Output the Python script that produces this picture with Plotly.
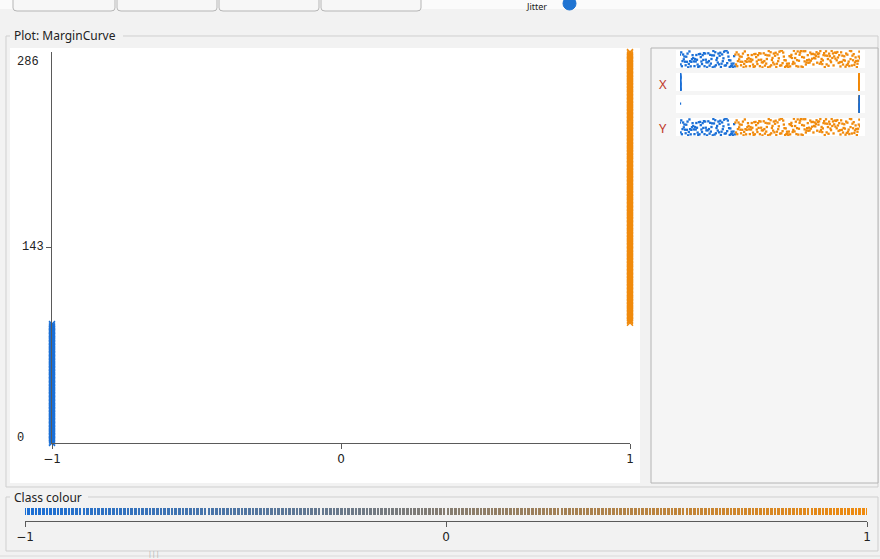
import numpy as np
import plotly.graph_objects as go

# ---- data: margin curve (margin vs. cumulative count) ----
N_NEGATIVE = 88          # instances with margin -1
N_POSITIVE = 199         # instances with margin +1
MARGIN_NEG = [-1] * N_NEGATIVE
MARGIN_POS = [1] * N_POSITIVE
CUMULATIVE = np.arange(N_NEGATIVE + N_POSITIVE)   # running instance count
CUM_NEG = CUMULATIVE[:N_NEGATIVE]
CUM_POS = CUMULATIVE[N_NEGATIVE:]
CURRENT_NEG = [0] + [1] * (N_NEGATIVE - 1)
CURRENT_POS = [1] * N_POSITIVE

Y_LABELS = [286, 143, 0]
X_TICKS = [-1, 0, 1]

BLUE = "#1a6fd6"
ORANGE = "#f08a0c"
BG = "#f2f2f2"
BORDER = "#cfcfcf"

W, H = 880, 559


def fx(px):
    return px / W


def fy(py):
    return 1 - py / H


fig = go.Figure()

# ---- main scatter ----
cross = dict(symbol="x-thin", size=6)
fig.add_trace(go.Scatter(
    x=MARGIN_NEG, y=CUM_NEG, mode="markers", cliponaxis=False,
    marker=dict(**cross, color=BLUE, line=dict(width=1.4, color=BLUE)),
    hoverinfo="skip", showlegend=False))
fig.add_trace(go.Scatter(
    x=MARGIN_POS, y=CUM_POS, mode="markers", cliponaxis=False,
    marker=dict(**cross, color=ORANGE, line=dict(width=1.4, color=ORANGE)),
    hoverinfo="skip", showlegend=False))

# ---- attribute strips on the right ----
strips = [
    # (axis suffix, neg values, pos values, range, top px, bottom px, draw order)
    ("2", CUM_NEG, CUM_POS, [0, 286], 50, 68, "neg_first"),
    ("3", MARGIN_NEG, MARGIN_POS, [-1, 1], 73, 91, "neg_first"),
    ("4", CURRENT_NEG, CURRENT_POS, [0, 1], 95, 113, "pos_first"),
    ("5", CUM_NEG, CUM_POS, [0, 286], 118, 136, "neg_first"),
]


def strip_trace(vals, color, sfx):
    return go.Box(
        x=vals, y0=0, orientation="h", boxpoints="all", jitter=1, pointpos=0,
        width=0.95, fillcolor="rgba(0,0,0,0)",
        line=dict(color="rgba(0,0,0,0)", width=0),
        marker=dict(color=color, size=2.3, symbol="square"),
        xaxis="x" + sfx, yaxis="y" + sfx, hoverinfo="skip", showlegend=False)


layout_axes = {}
for sfx, neg, pos, rng, top, bot, order in strips:
    if order == "neg_first":
        fig.add_trace(strip_trace(neg, BLUE, sfx))
        fig.add_trace(strip_trace(pos, ORANGE, sfx))
    else:
        fig.add_trace(strip_trace(pos, ORANGE, sfx))
        fig.add_trace(strip_trace(neg, BLUE, sfx))
    layout_axes["xaxis" + sfx] = dict(domain=[fx(680), fx(860)], range=rng,
                                      visible=False, anchor="y" + sfx, automargin=False)
    layout_axes["yaxis" + sfx] = dict(domain=[fy(bot), fy(top)], range=[-0.5, 0.5],
                                      visible=False, anchor="x" + sfx, automargin=False)

# ---- class colour key ----
KEY_STEPS = 230
key_x = np.linspace(-1, 1, KEY_STEPS)
fig.add_trace(go.Bar(
    x=key_x, y=[0.5] * KEY_STEPS, base=0.5, width=2 / (KEY_STEPS - 1) * 0.72,
    marker=dict(color=key_x, colorscale=[[0, BLUE], [1, ORANGE]], cmin=-1, cmax=1,
                line=dict(width=0)),
    xaxis="x6", yaxis="y6", cliponaxis=False, hoverinfo="skip", showlegend=False))

axis_line = dict(showline=True, linecolor="#5a5a5a", linewidth=1, ticks="outside",
                 ticklen=5, tickcolor="#5a5a5a", showgrid=False, zeroline=False,
                 automargin=False)

# ---- GUI-like frame ----
shapes = []


def line(x0, y0, x1, y1, color=BORDER, width=1):
    shapes.append(dict(type="line", xref="paper", yref="paper", x0=fx(x0), y0=fy(y0),
                       x1=fx(x1), y1=fy(y1), line=dict(color=color, width=width),
                       layer="below"))


def rect(x0, y0, x1, y1, fill, color=None, width=0):
    shapes.append(dict(type="rect", xref="paper", yref="paper", x0=fx(x0), y0=fy(y0),
                       x1=fx(x1), y1=fy(y1), fillcolor=fill,
                       line=dict(color=color or fill, width=width), layer="below"))


# top strip with tab-like buttons and jitter slider
rect(0, 0, 880, 9, "#fbfbfb")
for bx0, bx1 in [(13, 115), (117, 217), (219, 319), (321, 421)]:
    shapes.append(dict(type="path", xref="paper", yref="paper",
                       path=(f"M {fx(bx0)},{fy(-2)} L {fx(bx0)},{fy(8)} "
                             f"Q {fx(bx0)},{fy(11)} {fx(bx0 + 4)},{fy(11)} "
                             f"L {fx(bx1 - 4)},{fy(11)} Q {fx(bx1)},{fy(11)} "
                             f"{fx(bx1)},{fy(8)} L {fx(bx1)},{fy(-2)}"),
                       line=dict(color="#b5b5b5", width=1), fillcolor="#f7f7f7",
                       layer="below"))
shapes.append(dict(type="circle", xref="paper", yref="paper",
                   x0=fx(563), y0=fy(10), x1=fx(576), y1=fy(-3),
                   fillcolor="#1f74d2", line=dict(color="#1f74d2", width=1)))

# plot group box
line(6, 36, 10, 36)
line(123, 36, 878, 36)
line(6, 36, 6, 487)
line(6, 487, 878, 487)
line(878, 36, 878, 487)
rect(10, 48, 640, 483, "white")

# attribute panel
rect(651, 48, 878, 483, "#f5f5f5", "#b4b4b4", 1)
for _, _, _, _, top, bot, _ in strips:
    rect(676, top, 865, bot, "white")

# class colour group box
line(6, 497, 10, 497)
line(88, 497, 878, 497)
line(6, 497, 6, 551)
line(6, 551, 878, 551)
line(878, 497, 878, 551)
line(0, 556, 880, 556, "#dadada")

annotations = []


def text(px, py, s, size=12, family="Noto Sans", color="#222", xanchor="left",
         yref="paper", y=None, yshift=0):
    annotations.append(dict(
        x=fx(px), y=fy(py) if y is None else y, xref="paper", yref=yref,
        text=s, showarrow=False, xanchor=xanchor, yanchor="middle", yshift=yshift,
        font=dict(size=size, family=family, color=color)))


text(12, 36, "Plot: MarginCurve", size=12)
text(12, 497, "Class colour", size=12)
text(524, 7, "Jitter", size=9)
text(657, 84, "X", size=13, color="#c0392b")
text(657, 128, "Y", size=13, color="#c0392b")
text(15, 0, str(Y_LABELS[0]), size=12, family="Liberation Mono", yref="y",
     y=Y_LABELS[0], yshift=-10)
text(46, 0, str(Y_LABELS[1]), size=12, family="Liberation Mono", yref="y",
     y=Y_LABELS[1], xanchor="right")
text(15, 0, str(Y_LABELS[2]), size=12, family="Liberation Mono", yref="y",
     y=Y_LABELS[2], yshift=5)
text(146, 553, "|||", size=7, color="#aaa")

fig.update_layout(
    width=W, height=H, margin=dict(l=0, r=0, t=0, b=0, autoexpand=False),
    paper_bgcolor=BG, plot_bgcolor="rgba(0,0,0,0)",
    boxmode="overlay", bargap=0,
    xaxis=dict(domain=[fx(52), fx(630)], range=[-1, 1], anchor="y",
               tickvals=X_TICKS, ticktext=[f"{v}" if v >= 0 else "\u22121" for v in X_TICKS],
               tickfont=dict(family="DejaVu Sans", size=12, color="#222"),
               **axis_line),
    yaxis=dict(domain=[fy(443), fy(52)], range=[0, 286], anchor="x",
               tickvals=[143], showticklabels=False, **axis_line),
    xaxis6=dict(domain=[fx(25), fx(867)], range=[-1, 1], anchor="y6",
                tickvals=X_TICKS, ticktext=[f"{v}" if v >= 0 else "\u22121" for v in X_TICKS],
                tickfont=dict(family="DejaVu Sans", size=12, color="#222"),
                **axis_line),
    yaxis6=dict(domain=[fy(521), fy(508)], range=[0, 1], visible=False, anchor="x6",
                automargin=False),
    shapes=shapes, annotations=annotations,
    **layout_axes,
)

fig.write_html("out.html")
